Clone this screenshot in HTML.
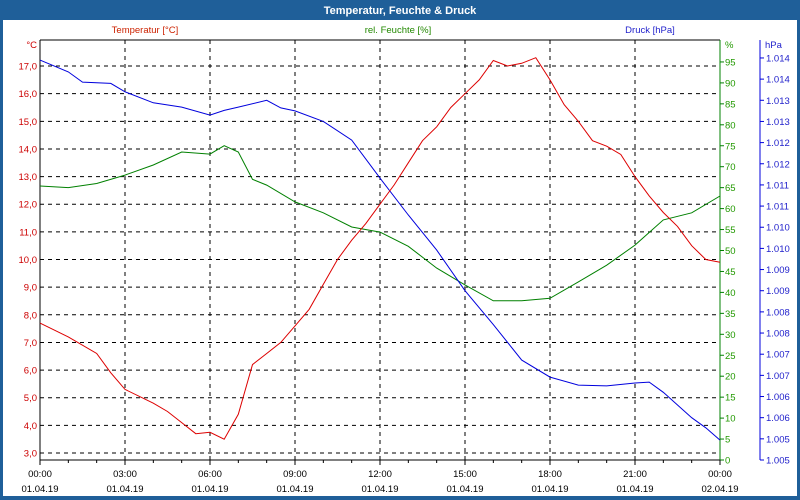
<!DOCTYPE html>
<html><head><meta charset="utf-8"><style>
html,body{margin:0;padding:0;background:#fff}
svg{display:block;font-family:"Liberation Sans",sans-serif}
</style></head><body>
<svg id="chart" width="800" height="500">
<rect x="0" y="0" width="800" height="500" fill="#1f5f99"/>
<rect x="3" y="20" width="794" height="476" fill="#fff"/>
<text x="400" y="14" text-anchor="middle" font-size="11" font-weight="bold" fill="#fff">Temperatur, Feuchte &amp; Druck</text>
<text x="145" y="33" text-anchor="middle" font-size="9.5" fill="#cc2200">Temperatur [°C]</text>
<text x="398" y="33" text-anchor="middle" font-size="9.5" fill="#228800">rel. Feuchte [%]</text>
<text x="650" y="33" text-anchor="middle" font-size="9.5" fill="#2222cc">Druck [hPa]</text>
<g id="grid"></g><g id="axes"></g><g id="series"></g>
</svg>
<script>
const hours=[0,1,2,2.5,3,4,4.5,5,5.5,6,6.5,7,7.5,8,8.5,9,9.5,10,10.5,11,11.5,12,12.5,13,13.5,14,14.5,15,15.5,16,16.5,17,17.5,18,18.5,19,19.5,20,20.5,21,21.5,22,22.5,23,23.5,24];
const temperature=[7.7,7.2,6.6,5.9,5.3,4.8,4.5,4.1,3.7,3.75,3.5,4.4,6.2,6.6,7.0,7.6,8.2,9.1,10.0,10.7,11.3,12.0,12.7,13.5,14.3,14.8,15.5,16.0,16.5,17.2,17.0,17.1,17.3,16.5,15.6,15.0,14.3,14.1,13.8,13.0,12.3,11.7,11.2,10.5,10.0,9.9];
const humHours=[0,1,2,3,4,5,6,6.5,7,7.5,8,9,10,11,12,13,14,15,16,17,18,19,20,21,22,23,24];
const humidity=[65.4,65,66,68,70.4,73.5,73,75,73.5,67,65.6,61.6,59,55.6,54.4,51,45.8,41.8,38,38,38.6,42.5,46.5,51.3,57.3,59,63];
const presHours=[0,1,1.5,2.5,3,4,5,6,6.5,7,8,8.5,9,10,11,12,13,14,15,16,17,18,19,20,21,21.5,22,23,23.5,24];
const pressure=[1013.95,1013.67,1013.43,1013.4,1013.2,1012.94,1012.84,1012.65,1012.76,1012.84,1013.0,1012.82,1012.75,1012.5,1012.06,1011.16,1010.29,1009.46,1008.5,1007.7,1006.86,1006.46,1006.27,1006.25,1006.32,1006.34,1006.1,1005.5,1005.26,1004.97];
const tempTicks=[3,4,5,6,7,8,9,10,11,12,13,14,15,16,17];
const humTicks=[0,5,10,15,20,25,30,35,40,45,50,55,60,65,70,75,80,85,90,95];
const presTicks=[1004.5,1005,1005.5,1006,1006.5,1007,1007.5,1008,1008.5,1009,1009.5,1010,1010.5,1011,1011.5,1012,1012.5,1013,1013.5,1014];
const xTickLabels=["00:00","03:00","06:00","09:00","12:00","15:00","18:00","21:00","00:00"];
const xDateLabels=["01.04.19","01.04.19","01.04.19","01.04.19","01.04.19","01.04.19","01.04.19","01.04.19","02.04.19"];
const L=40,R=720,T=40,B=460;
const x=h=>L+h*(R-L)/24;
const yT=v=>453-(v-3)*27.64;
const yH=v=>460-v*4.19;
const yP=v=>460-(v-1004.5)/0.5*21.16;
const NS="http://www.w3.org/2000/svg";
function mk(tag,attrs,parent,text){const e=document.createElementNS(NS,tag);for(const k in attrs)e.setAttribute(k,attrs[k]);if(text!==undefined)e.textContent=text;document.getElementById(parent).appendChild(e);return e;}
tempTicks.forEach(v=>{const e=mk('line',{x1:L,x2:R,y1:yT(v),y2:yT(v),stroke:'#000','stroke-dasharray':'4,4'},'grid');

});
for(let i=1;i<8;i++){const e=mk('line',{x1:x(i*3),x2:x(i*3),y1:T,y2:B,stroke:'#000','stroke-dasharray':'4,4'},'grid');

}
let e;
e=mk('line',{x1:L,x2:L,y1:T,y2:B,stroke:'#000'},'axes');


e=mk('line',{x1:L,x2:R,y1:B,y2:B,stroke:'#000'},'axes');


e=mk('line',{x1:L,x2:R,y1:T,y2:T,stroke:'#000'},'axes');


e=mk('line',{x1:R,x2:R,y1:T,y2:B,stroke:'#008000'},'axes');


e=mk('line',{x1:760,x2:760,y1:T,y2:B,stroke:'#0000dd'},'axes');


e=mk('text',{x:37,y:48,'text-anchor':'end','font-size':9.5,fill:'#cc0000'},'axes','°C');


e=mk('text',{x:725,y:48,'font-size':9.5,fill:'#229900'},'axes','%');


e=mk('text',{x:765,y:48,'font-size':9.5,fill:'#2222cc'},'axes','hPa');


tempTicks.forEach(v=>{e=mk('text',{x:37,y:yT(v)+3.5,'text-anchor':'end','font-size':9.5,fill:'#cc0000'},'axes',v.toFixed(1).replace('.',','));

});
humTicks.forEach(v=>{mk('line',{x1:R,x2:R+4,y1:yH(v),y2:yH(v),stroke:'#008000'},'axes');
e=mk('text',{x:725,y:yH(v)+3.5,'font-size':9.5,fill:'#229900'},'axes',String(v));

});
presTicks.forEach(v=>{mk('line',{x1:760,x2:764,y1:yP(v),y2:yP(v),stroke:'#0000dd'},'axes');
e=mk('text',{x:766,y:yP(v)+3.5,'font-size':9.5,fill:'#2222cc'},'axes',(Math.round(v)/1000).toFixed(3));

});
for(let h=0;h<=24;h++){mk('line',{x1:x(h),x2:x(h),y1:B,y2:B+(h%3?3:5),stroke:'#000'},'axes');}
xTickLabels.forEach((t,i)=>{e=mk('text',{x:x(i*3),y:477,'text-anchor':'middle','font-size':9.5,fill:'#000'},'axes',t);


e=mk('text',{x:x(i*3),y:492,'text-anchor':'middle','font-size':9.5,fill:'#000'},'axes',xDateLabels[i]);

});
function line(xs,vs,fy,col,name){const d=xs.map((h,i)=>(i?'L':'M')+x(h).toFixed(1)+','+fy(vs[i]).toFixed(1)).join('');
const p=mk('path',{d:d,fill:'none',stroke:col,'stroke-width':1},'series');

}
line(humHours,humidity,yH,'#008000','humidity-line');
line(presHours,pressure,yP,'#0000dd','pressure-line');
line(hours,temperature,yT,'#dd0000','temperature-line');
</script>
</body></html>
